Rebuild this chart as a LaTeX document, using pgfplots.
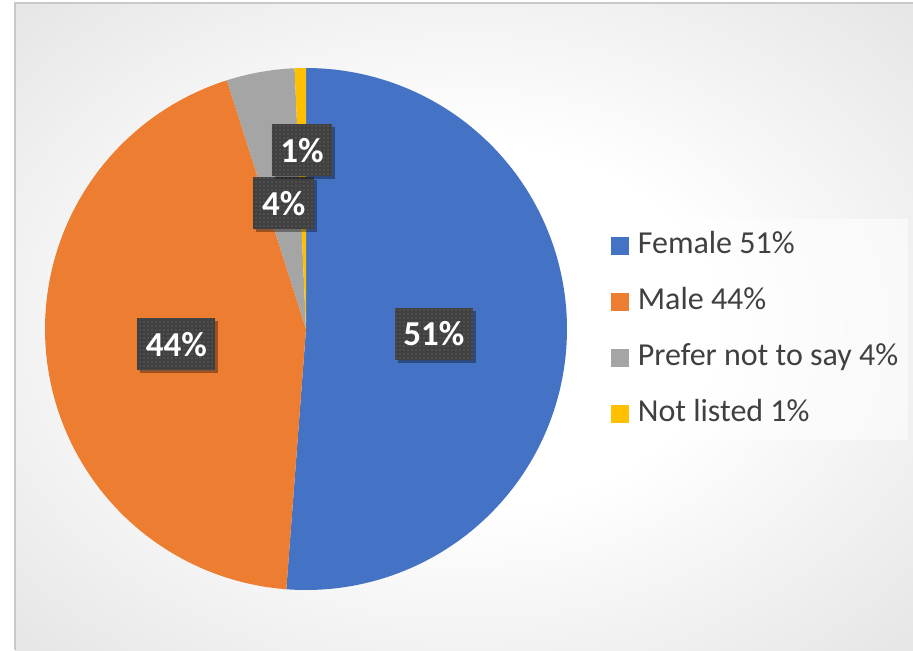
\documentclass[border=0pt]{standalone}
\usepackage{fontspec}
\setmainfont{Carlito}
\usepackage{pgfplots}
\usepackage{pgfplotstable}
\pgfplotsset{compat=1.18}
\usetikzlibrary{patterns,shadows}

\definecolor{cfem}{HTML}{4472C4}
\definecolor{cmale}{HTML}{ED7D31}
\definecolor{cpref}{HTML}{A5A5A5}
\definecolor{cnot}{HTML}{FFC000}
\definecolor{lblbg}{HTML}{404040}
\definecolor{dotgray}{HTML}{5E5E5E}
\definecolor{textgray}{HTML}{404040}
\definecolor{bgmid}{HTML}{D4D4D4}
\definecolor{bgout}{HTML}{BFBFBF}
\definecolor{framegray}{HTML}{C8C8C8}

\pgfdeclarepatternformonly{smalldots}{\pgfqpoint{-.5pt}{-.5pt}}{\pgfqpoint{.5pt}{.5pt}}{\pgfqpoint{2pt}{2pt}}{\pgfpathcircle{\pgfpointorigin}{.4pt}\pgfusepath{fill}}
\pgfdeclareradialshading{bgshade}{\pgfpoint{0bp}{0bp}}{color(0bp)=(white); color(14bp)=(white); color(50bp)=(bgmid); color(71bp)=(bgout)}

\tikzset{lbl/.style={drop shadow={shadow xshift=1.5pt, shadow yshift=-1.5pt, opacity=0.35, fill=black},
  preaction={fill=lblbg}, pattern=smalldots, pattern color=dotgray, text=white,
  font=\bfseries\fontsize{17.5}{19}\selectfont, minimum height=26pt, inner xsep=4.3pt, inner ysep=0pt}}

\pgfplotstableread{
label value
Female 51.2
Male 43.9
Prefer 4.2
Notlisted 0.7
}\piedata

\begin{document}
\begin{tikzpicture}
\useasboundingbox (0,0) rectangle (456.5pt,325pt);
\fill[white] (0,0) rectangle (456.5pt,325pt);
\shade[shading=bgshade] (7.5pt,0pt) rectangle (456.5pt,323.5pt);
\draw[framegray, line width=1pt] (7.5pt,0pt) -- (7.5pt,323.5pt) -- (456.5pt,323.5pt);

\pgfplotstablegetelem{0}{value}\of\piedata\pgfmathsetmacro\vA{\pgfplotsretval}
\pgfplotstablegetelem{1}{value}\of\piedata\pgfmathsetmacro\vB{\pgfplotsretval}
\pgfplotstablegetelem{2}{value}\of\piedata\pgfmathsetmacro\vC{\pgfplotsretval}
\pgfplotstablegetelem{3}{value}\of\piedata\pgfmathsetmacro\vD{\pgfplotsretval}
\pgfmathsetmacro\tot{\vA+\vB+\vC+\vD}
\pgfmathsetmacro\aA{90}
\pgfmathsetmacro\aB{\aA-360*(\vA/\tot)}
\pgfmathsetmacro\aC{\aB-360*(\vB/\tot)}
\pgfmathsetmacro\aD{\aC-360*(\vC/\tot)}
\pgfmathsetmacro\aE{\aD-360*(\vD/\tot)}
\pgfmathsetmacro\mA{(\aA+\aB)/2}
\pgfmathsetmacro\mB{(\aB+\aC)/2}
\pgfmathsetmacro\mC{(\aC+\aD)/2}
\pgfmathsetmacro\mD{(\aD+\aE)/2}

\begin{axis}[at={(153pt,160.5pt)}, anchor=center, scale only axis,
  width=261pt, height=261pt, xmin=-1, xmax=1, ymin=-1, ymax=1,
  hide axis, clip=false,
  legend image code/.code={\path (0pt,0pt); \fill[#1, fill opacity=1, draw=none] (4pt,-4.5pt) rectangle (13pt,4.5pt);},
  legend cell align=left,
  legend style={at={(1.0556,0.7107)}, anchor=north west, draw=none, fill=white,
    fill opacity=0.55, text opacity=1, inner xsep=3pt, inner ysep=4pt,
    row sep=9.5pt, column sep=2.5pt, font=\fontsize{16}{18}\selectfont, text=textgray,
    nodes={inner sep=2pt, text height=11pt, text depth=3.5pt}}]
\addplot[forget plot, fill=cfem, draw=none, domain=\aB:\aA, samples=120, variable=\t] ({cos(\t)},{sin(\t)}) -- (axis cs:0,0) -- cycle;
\addplot[forget plot, fill=cmale, draw=none, domain=\aC:\aB, samples=120, variable=\t] ({cos(\t)},{sin(\t)}) -- (axis cs:0,0) -- cycle;
\addplot[forget plot, fill=cpref, draw=none, domain=\aD:\aC, samples=20, variable=\t] ({cos(\t)},{sin(\t)}) -- (axis cs:0,0) -- cycle;
\addplot[forget plot, fill=cnot, draw=none, domain=\aE:\aD, samples=10, variable=\t] ({cos(\t)},{sin(\t)}) -- (axis cs:0,0) -- cycle;

\addlegendimage{fill=cfem}
\addlegendentry{Female 51\%}
\addlegendimage{fill=cmale}
\addlegendentry{Male 44\%}
\addlegendimage{fill=cpref}
\addlegendentry{Prefer not to say 4\%}
\addlegendimage{fill=cnot}
\addlegendentry{Not listed 1\%}

\node[lbl] at (axis cs:{0.49*cos(\mA)},{0.49*sin(\mA)}) {51\%};
\node[lbl] at (axis cs:{0.5*cos(\mB)},{0.5*sin(\mB)}) {44\%};
\node[lbl] at (axis cs:{0.49*cos(\mC)},{0.49*sin(\mC)}) {4\%};
\node[lbl] at (axis cs:{0.685*cos(\mD)},{0.685*sin(\mD)}) {1\%};
\end{axis}
\end{tikzpicture}
\end{document}
